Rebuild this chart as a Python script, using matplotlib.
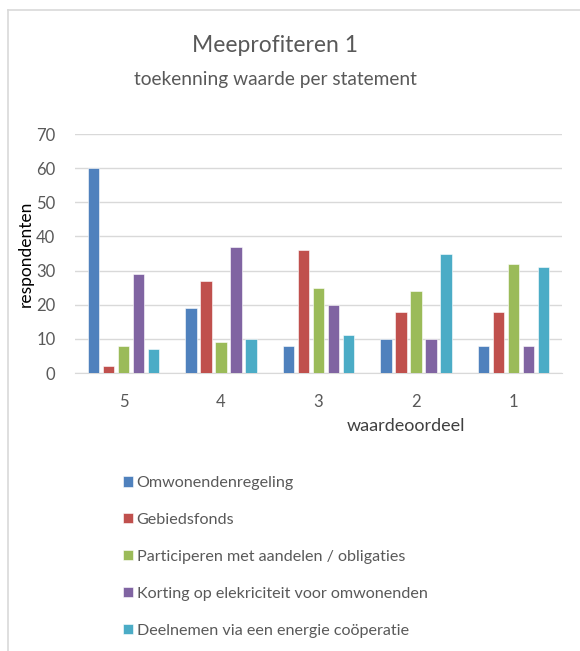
import matplotlib.pyplot as plt
import numpy as np
from matplotlib.lines import Line2D

plt.rcParams['font.family'] = ['Lato', 'DejaVu Sans']

# data
categories = ['5', '4', '3', '2', '1']
series_names = [
    'Omwonendenregeling',
    'Gebiedsfonds',
    'Participeren met aandelen / obligaties',
    'Korting op elekriciteit voor omwonenden',
    'Deelnemen via een energie coöperatie',
]
omwonenden = [60, 19, 8, 10, 8]
gebiedsfonds = [2, 27, 36, 18, 18]
participeren = [8, 9, 25, 24, 32]
korting = [29, 37, 20, 10, 8]
deelnemen = [7, 10, 11, 35, 31]
series_values = [omwonenden, gebiedsfonds, participeren, korting, deelnemen]
colors = ['#4F81BD', '#C0504D', '#9BBB59', '#8064A2', '#4BACC6']

GRAY = '#595959'

fig = plt.figure(figsize=(5.8, 6.51), dpi=100)
ax = fig.add_axes([0.129, 0.427, 0.840, 0.367])

x = np.arange(len(categories))
step = 0.154
width = 0.118
bars = []
for i, (vals, col) in enumerate(zip(series_values, colors)):
    b = ax.bar(x + (i - 2) * step, vals, width, color=col,
               edgecolor='white', linewidth=0.4, zorder=3, label=series_names[i])
    bars.append(b)

ax.set_xlim(-0.5, 4.5)
ax.set_ylim(0, 70)
ax.set_yticks(range(0, 71, 10))
ax.set_xticks(x)
ax.set_xticklabels(categories)
ax.grid(axis='y', color='#D9D9D9', linewidth=1, zorder=0)
for s in ['top', 'right', 'left']:
    ax.spines[s].set_visible(False)
ax.spines['bottom'].set_color('#D9D9D9')
ax.tick_params(axis='both', length=0, colors=GRAY, labelsize=12)
ax.tick_params(axis='x', pad=15)
ax.tick_params(axis='y', pad=14)

ax.set_ylabel('respondenten', fontsize=12.5, color='black', labelpad=2)
ax.set_xlabel('waardeoordeel', fontsize=13, color='#404040')
ax.xaxis.set_label_coords(0.68, -0.19)

fig.text(0.475, 0.930, 'Meeprofiteren 1', ha='center', va='center',
         fontsize=16.5, color=GRAY)
fig.text(0.475, 0.878, 'toekenning waarde per statement', ha='center', va='center',
         fontsize=13.8, color=GRAY)

fig.legend(handles=bars, labels=series_names, loc='upper left',
           bbox_to_anchor=(0.198, 0.281), frameon=False, fontsize=11.6,
           labelcolor=GRAY, handlelength=0.6, handleheight=0.6,
           handletextpad=0.25, labelspacing=1.42, borderpad=0)

# chart border (top and left edges)
fig.add_artist(Line2D([8 / 580, 1], [1 - 10 / 651, 1 - 10 / 651],
                      transform=fig.transFigure, color='#D9D9D9', linewidth=1.2))
fig.add_artist(Line2D([8 / 580, 8 / 580], [0, 1 - 10 / 651],
                      transform=fig.transFigure, color='#D9D9D9', linewidth=1.2))

fig.savefig('out.png', dpi=100)
